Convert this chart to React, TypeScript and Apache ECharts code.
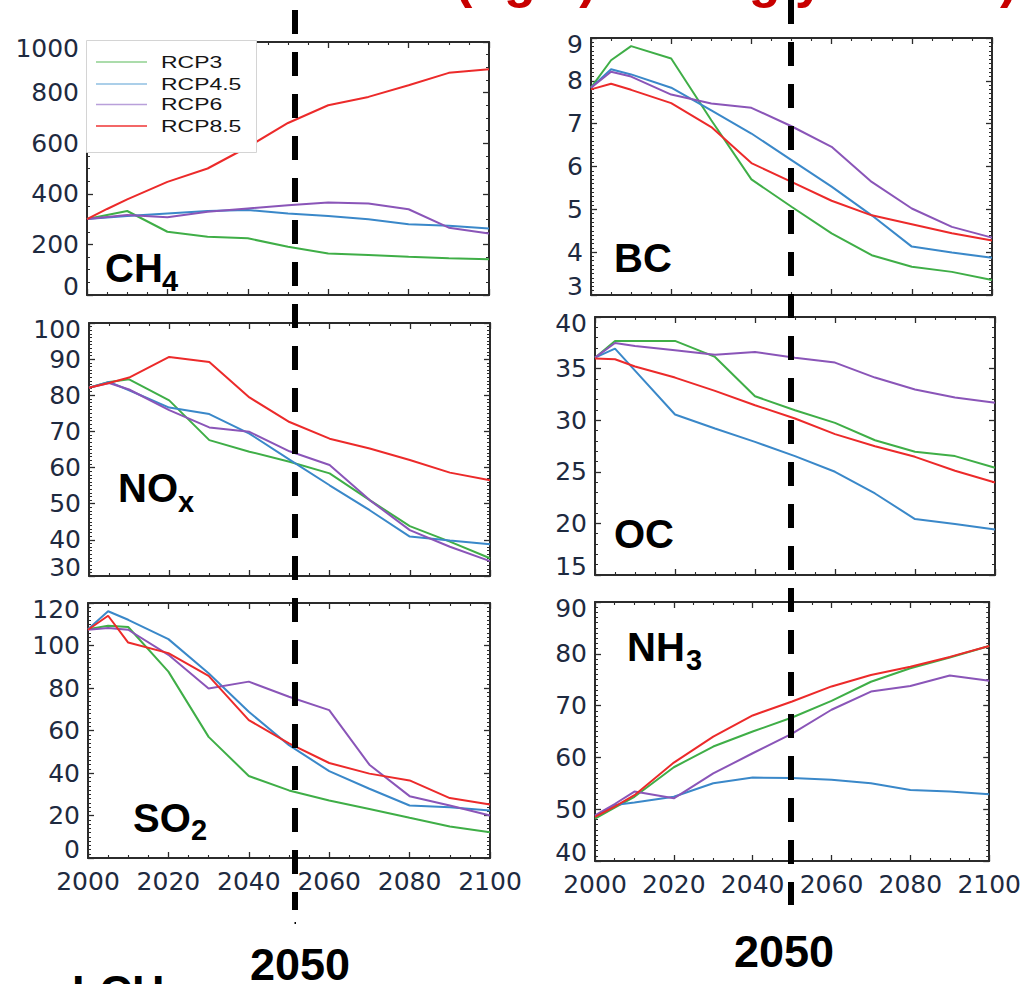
import React, { useEffect, useRef } from "react";
import * as echarts from "echarts";

// ---------- data ----------
const years = [2000, 2005, 2010, 2020, 2030, 2040, 2050, 2060, 2070, 2080, 2090, 2100];
const scenarios = ["RCP3", "RCP4.5", "RCP6", "RCP8.5"];
const xTickValues = [2000, 2020, 2040, 2060, 2080, 2100];

const ch4Rcp3 = [300, 316, 332, 250, 230, 224, 191, 164, 158, 151, 145, 141];
const ch4Rcp45 = [300, 306, 312, 322, 332, 336, 322, 312, 299, 280, 274, 263];
const ch4Rcp6 = [300, 308, 316, 307, 329, 342, 355, 366, 362, 339, 266, 243];
const ch4Rcp85 = [300, 340, 378, 447, 500, 585, 680, 750, 783, 829, 878, 892];
const ch4Ticks = [0, 200, 400, 600, 800, 1000];

const bcRcp3 = [7.84, 8.48, 8.81, 8.52, 7.08, 5.7, 5.06, 4.44, 3.93, 3.66, 3.54, 3.35];
const bcRcp45 = [7.84, 8.27, 8.15, 7.84, 7.31, 6.77, 6.15, 5.53, 4.86, 4.13, 3.99, 3.87];
const bcRcp6 = [7.84, 8.21, 8.1, 7.68, 7.47, 7.37, 6.94, 6.46, 5.64, 5.02, 4.59, 4.34];
const bcRcp85 = [7.8, 7.93, 7.79, 7.48, 6.92, 6.08, 5.64, 5.2, 4.86, 4.65, 4.44, 4.27];
const bcTicks = [3, 4, 5, 6, 7, 8, 9];

const noxRcp3 = [82.1, 83.7, 84.4, 78.6, 67.6, 64.4, 61.6, 58.4, 51.0, 43.8, 39.5, 34.9];
const noxRcp45 = [82.1, 83.7, 81.4, 76.6, 74.8, 69.4, 62.2, 55.1, 48.2, 40.9, 39.8, 38.8];
const noxRcp6 = [82.1, 83.4, 81.6, 75.9, 71.1, 69.9, 64.5, 60.7, 51.0, 42.7, 38.1, 34.1];
const noxRcp85 = [82.1, 83.4, 84.9, 90.6, 89.2, 79.4, 72.6, 68.0, 65.3, 62.1, 58.6, 56.5];
const noxTicks = [30, 40, 50, 60, 70, 80, 90, 100];

const ocRcp3 = [36.06, 37.68, 37.68, 37.68, 36.13, 32.32, 30.97, 29.74, 28.06, 26.94, 26.52, 25.39];
const ocRcp45 = [36.06, 36.94, 34.8, 30.55, 29.19, 27.9, 26.52, 25.0, 22.9, 20.42, 19.94, 19.42];
const ocRcp6 = [36.06, 37.48, 37.19, 36.77, 36.35, 36.61, 36.06, 35.58, 34.13, 32.97, 32.19, 31.68];
const ocRcp85 = [35.97, 35.9, 35.2, 34.13, 32.84, 31.45, 30.16, 28.65, 27.48, 26.45, 25.1, 23.97];
const ocTicks = [15, 20, 25, 30, 35, 40];

const so2Rcp3 = [107.7, 109.3, 108.7, 87.7, 57.0, 38.6, 31.8, 27.1, 23.1, 18.9, 14.8, 12.1];
const so2Rcp45 = [107.7, 116.1, 112.1, 103.0, 86.9, 68.8, 53.1, 40.9, 32.6, 24.7, 23.9, 22.4];
const so2Rcp6 = [107.4, 108.2, 107.4, 95.6, 79.8, 83.0, 75.9, 69.6, 43.9, 29.1, 24.7, 20.0];
const so2Rcp85 = [107.4, 114.0, 101.4, 96.4, 85.7, 64.9, 53.9, 44.7, 39.7, 36.5, 28.2, 25.2];
const so2Ticks = [0, 20, 40, 60, 80, 100, 120];

const nh3Rcp3 = [48.2, 50.3, 52.4, 58.1, 62.1, 65.0, 67.7, 70.9, 74.6, 77.2, 79.3, 81.5];
const nh3Rcp45 = [48.6, 50.8, 51.3, 52.4, 55.0, 56.1, 56.0, 55.7, 55.0, 53.7, 53.4, 52.9];
const nh3Rcp6 = [48.8, 51.0, 53.4, 52.1, 56.9, 60.8, 64.6, 69.2, 72.7, 73.8, 75.8, 74.8];
const nh3Rcp85 = [48.5, 50.5, 52.7, 59.0, 64.0, 68.1, 70.8, 73.7, 75.9, 77.5, 79.4, 81.5];
const nh3Ticks = [40, 50, 60, 70, 80, 90];

// ---------- layout / style ----------
const seriesColors = ["#3fae47", "#3a88c9", "#8a55b8", "#ec2a2a"];
const legendColors = ["#8fd08f", "#8fbfe2", "#b9a0da", "#ef3535"];
const labelColor = "#1e2a40";
const tickFont = "DejaVu Sans";
const tickSize = 25;
const boldFont = "Liberation Sans, Arial, sans-serif";

const panels = [
  { values: [ch4Rcp3, ch4Rcp45, ch4Rcp6, ch4Rcp85], ticks: ch4Ticks, minor: 4, rect: { left: 87, top: 42, width: 402, height: 253 }, xLabels: false },
  { values: [bcRcp3, bcRcp45, bcRcp6, bcRcp85], ticks: bcTicks, minor: 10, rect: { left: 591, top: 38, width: 401, height: 257 }, xLabels: false },
  { values: [noxRcp3, noxRcp45, noxRcp6, noxRcp85], ticks: noxTicks, minor: 10, rect: { left: 89, top: 323, width: 401, height: 253 }, xLabels: false },
  { values: [ocRcp3, ocRcp45, ocRcp6, ocRcp85], ticks: ocTicks, minor: 5, rect: { left: 595, top: 317, width: 400, height: 258 }, xLabels: false },
  { values: [so2Rcp3, so2Rcp45, so2Rcp6, so2Rcp85], ticks: so2Ticks, minor: 10, rect: { left: 88, top: 603, width: 402, height: 255 }, xLabels: true },
  { values: [nh3Rcp3, nh3Rcp45, nh3Rcp6, nh3Rcp85], ticks: nh3Ticks, minor: 10, rect: { left: 595, top: 602, width: 400, height: 259 }, xLabels: true },
];

const panelTitles = [
  { main: "CH", sub: "4", x: 105, y: 268, subX: 162, subY: 281 },
  { main: "BC", sub: "", x: 614, y: 258, subX: 0, subY: 0 },
  { main: "NO", sub: "x", x: 118, y: 488, subX: 178, subY: 502 },
  { main: "OC", sub: "", x: 614, y: 534, subX: 0, subY: 0 },
  { main: "SO", sub: "2", x: 133, y: 818, subX: 191, subY: 830 },
  { main: "NH", sub: "3", x: 627, y: 647, subX: 686, subY: 660 },
];

const axisLineStyle = { color: "#2b2b2b", width: 2 };

function text(x: number, y: number, str: string, size: number, opts: any = {}) {
  return {
    type: "text",
    x,
    y,
    z: opts.z ?? 120,
    scaleX: opts.scaleX ?? 1,
    style: {
      text: str,
      fontSize: size,
      fontWeight: opts.weight ?? "bold",
      fontFamily: opts.family ?? boldFont,
      fill: opts.fill ?? "#000",
      align: opts.align ?? "left",
      textAlign: opts.align ?? "left",
      verticalAlign: "middle",
      textVerticalAlign: "middle",
    },
  };
}

const tickTextStyle = { fontSize: tickSize, fontFamily: tickFont, color: labelColor };

export default function App() {
  const ref = useRef<HTMLDivElement>(null);

  useEffect(() => {
    if (!ref.current) return;
    const chart = echarts.init(ref.current, undefined, { renderer: "svg" });

    const grid: any[] = [];
    const xAxis: any[] = [];
    const yAxis: any[] = [];
    const series: any[] = [];

    panels.forEach((p, i) => {
      grid.push({ ...p.rect, containLabel: false, show: false });
      const ymin = p.ticks[0];
      const ymax = p.ticks[p.ticks.length - 1];
      const yint = p.ticks[1] - p.ticks[0];
      ["bottom", "top"].forEach((pos) => {
        xAxis.push({
          type: "value",
          gridIndex: i,
          position: pos,
          min: xTickValues[0],
          max: xTickValues[xTickValues.length - 1],
          interval: xTickValues[1] - xTickValues[0],
          axisLine: { show: true, onZero: false, lineStyle: axisLineStyle },
          axisTick: { show: true, inside: true, length: 6, lineStyle: { color: "#2b2b2b", width: 1.3 } },
          minorTick: { show: true, splitNumber: 4, length: 3, lineStyle: { color: "#2b2b2b", width: 1.1 } },
          splitLine: { show: false },
          minorSplitLine: { show: false },
          axisLabel: {
            show: pos === "bottom" && p.xLabels,
            margin: 11,
            ...tickTextStyle,
            formatter: (v: number) => String(v),
          },
        });
      });
      ["left", "right"].forEach((pos) => {
        yAxis.push({
          type: "value",
          gridIndex: i,
          position: pos,
          min: ymin,
          max: ymax,
          interval: yint,
          axisLine: { show: true, onZero: false, lineStyle: axisLineStyle },
          axisTick: { show: true, inside: true, length: 6, lineStyle: { color: "#2b2b2b", width: 1.3 } },
          minorTick: { show: true, splitNumber: p.minor, length: 3, lineStyle: { color: "#2b2b2b", width: 1 } },
          splitLine: { show: false },
          minorSplitLine: { show: false },
          axisLabel: {
            show: pos === "left",
            margin: 8,
            ...tickTextStyle,
            formatter: (v: number) =>
              v === ymax ? `{t|${v}}` : v === ymin ? `{b|${v}}` : `{n|${v}}`,
            rich: {
              t: { ...tickTextStyle, padding: [12, 0, 0, 0] },
              b: { ...tickTextStyle, padding: [0, 0, 18, 0] },
              n: { ...tickTextStyle },
            },
          },
        });
      });
      p.values.forEach((vals, j) => {
        series.push({
          type: "line",
          name: scenarios[j],
          xAxisIndex: 2 * i,
          yAxisIndex: 2 * i,
          data: years.map((yr, k) => [yr, vals[k]]),
          showSymbol: false,
          symbol: "none",
          lineStyle: { color: seriesColors[j], width: 2 },
          itemStyle: { color: seriesColors[j] },
          z: 2,
        });
      });
    });

    const graphic: any[] = [];

    // panel titles
    panelTitles.forEach((t) => {
      graphic.push(text(t.x, t.y, t.main, 40));
      if (t.sub) graphic.push(text(t.subX, t.subY, t.sub, 29));
    });

    // legend (top-left panel)
    graphic.push({
      type: "rect",
      z: 110,
      shape: { x: 86.5, y: 40.5, width: 170, height: 112 },
      style: { fill: "#ffffff", stroke: "#d4d4d4", lineWidth: 1 },
    });
    const legendRows = [62, 84, 104.5, 126];
    scenarios.forEach((s, j) => {
      graphic.push({
        type: "line",
        z: 115,
        shape: { x1: 96, y1: legendRows[j], x2: 147, y2: legendRows[j] },
        style: { stroke: legendColors[j], lineWidth: 1.6 },
      });
      graphic.push(text(161, legendRows[j], s, 17, { weight: "normal", fill: "#151515", scaleX: 1.35 }));
    });

    // dashed 2050 markers
    graphic.push({
      type: "line",
      z: 130,
      shape: { x1: 295, y1: 10, x2: 295, y2: 910 },
      style: { stroke: "#000", lineWidth: 6, lineDash: [24, 18], lineCap: "butt" },
    });
    graphic.push({ type: "rect", z: 130, shape: { x: 294.5, y: 922, width: 1.5, height: 2 }, style: { fill: "#000" } });
    graphic.push({
      type: "line",
      z: 130,
      shape: { x1: 791, y1: 0, x2: 791, y2: 905 },
      style: { stroke: "#000", lineWidth: 6, lineDash: [24, 18], lineCap: "butt" },
    });
    graphic.push(text(300, 964, "2050", 45, { align: "center" }));
    graphic.push(text(784, 951, "2050", 45, { align: "center" }));
    graphic.push(text(72, 991, "LCH", 45));

    // cut-off red heading at the top (only descenders visible)
    graphic.push(text(455, -21, "(Tg/a)", 52, { fill: "#c80000" }));
    graphic.push(text(717, -21, "Tg/yr", 52, { fill: "#c80000" }));
    graphic.push(text(1000, -21, ")", 52, { fill: "#c80000" }));

    chart.setOption({
      animation: false,
      backgroundColor: "#ffffff",
      grid,
      xAxis,
      yAxis,
      series,
      graphic,
    });

    return () => chart.dispose();
  }, []);

  return (
    <div
      ref={ref}
      style={{ position: "absolute", left: 0, top: 0, width: 1024, height: 984, background: "#fff" }}
    />
  );
}
